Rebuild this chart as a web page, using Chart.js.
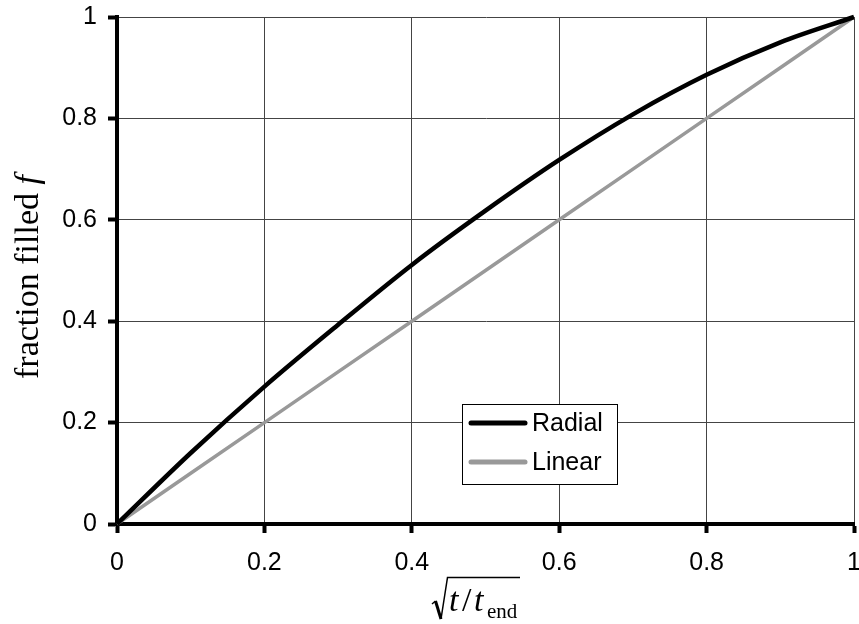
<!DOCTYPE html>
<html><head><meta charset="utf-8">
<script src="https://cdn.jsdelivr.net/npm/chart.js@4/dist/chart.umd.min.js"></script>
<style>html,body{margin:0;padding:0;background:#fff}#wrap{width:859px;height:624px;position:relative}</style>
</head><body><div id="wrap"><canvas id="c" width="859" height="624"></canvas></div>
<script>
// Data
const sValues   = [0, 0.1, 0.2, 0.3, 0.4, 0.5, 0.6, 0.7, 0.8, 0.9, 1.0];
const radialF   = [0, 0.140, 0.271, 0.393, 0.511, 0.618, 0.718, 0.808, 0.886, 0.950, 1.0];
const linearF   = [0, 0.1, 0.2, 0.3, 0.4, 0.5, 0.6, 0.7, 0.8, 0.9, 1.0];
const seriesNames = ["Radial", "Linear"];
const xTickVals = [0, 0.2, 0.4, 0.6, 0.8, 1];
const xTickLabels = ["0", "0.2", "0.4", "0.6", "0.8", "1"];
const yTickVals = [0, 0.2, 0.4, 0.6, 0.8, 1];
const yTickLabels = ["0", "0.2", "0.4", "0.6", "0.8", "1"];
const yTitleNormal = "fraction filled ";
const yTitleItalic = "f";

const pts = (ys) => sValues.map((x, i) => ({x: x, y: ys[i]}));

const SANS = "'Liberation Sans', Arial, sans-serif";
const SERIF = "'Liberation Serif', 'Times New Roman', serif";

const extras = {
  id: 'extras',
  afterDraw(chart) {
    const ctx = chart.ctx;
    ctx.save();
    // Y title (rotated, with italic f)
    ctx.translate(38, 277);
    ctx.rotate(-Math.PI / 2);
    ctx.fillStyle = '#000';
    ctx.textBaseline = 'alphabetic';
    ctx.textAlign = 'left';
    ctx.font = "34px " + SERIF;
    const w1 = ctx.measureText(yTitleNormal).width;
    ctx.font = "italic 34px " + SERIF;
    const w2 = ctx.measureText(yTitleItalic).width;
    const start = -(w1 + w2) / 2;
    ctx.font = "34px " + SERIF;
    ctx.fillText(yTitleNormal, start, 0);
    ctx.font = "italic 34px " + SERIF;
    ctx.fillText(yTitleItalic, start + w1, 0);
    ctx.restore();

    // X title: sqrt(t / t_end)
    ctx.save();
    ctx.strokeStyle = '#000';
    ctx.lineJoin = 'miter';
    ctx.lineWidth = 1.5;
    ctx.beginPath();
    ctx.moveTo(432, 604);
    ctx.lineTo(435.5, 601);
    ctx.stroke();
    ctx.lineWidth = 3;
    ctx.beginPath();
    ctx.moveTo(435.5, 601);
    ctx.lineTo(441, 619);
    ctx.stroke();
    ctx.lineWidth = 1.5;
    ctx.beginPath();
    ctx.moveTo(441, 619);
    ctx.lineTo(447.5, 577.5);
    ctx.lineTo(520, 577.5);
    ctx.stroke();
    ctx.fillStyle = '#000';
    ctx.textBaseline = 'alphabetic';
    ctx.textAlign = 'left';
    ctx.font = "italic 34px " + SERIF;
    ctx.fillText("t", 449, 611);
    ctx.font = "34px " + SERIF;
    ctx.fillText("/", 462, 611);
    ctx.font = "italic 34px " + SERIF;
    ctx.fillText("t", 474, 611);
    ctx.font = "21px " + SERIF;
    ctx.fillText("end", 487, 618);
    ctx.restore();

    // Legend
    ctx.save();
    const bx = 462.5, by = 404.5, bw = 155, bh = 80;
    ctx.fillStyle = '#fff';
    ctx.fillRect(bx, by, bw, bh);
    ctx.strokeStyle = '#000';
    ctx.lineWidth = 1;
    ctx.strokeRect(bx, by, bw, bh);
    const rows = [423, 462];
    chart.data.datasets.forEach((ds, i) => {
      ctx.strokeStyle = ds.borderColor;
      ctx.lineWidth = 5;
      ctx.lineCap = 'round';
      ctx.beginPath();
      ctx.moveTo(471, rows[i]);
      ctx.lineTo(525, rows[i]);
      ctx.stroke();
      ctx.fillStyle = '#000';
      ctx.font = "25px " + SANS;
      ctx.textBaseline = 'middle';
      ctx.textAlign = 'left';
      ctx.fillText(ds.label, 532, rows[i] + 1);
    });
    ctx.restore();
  }
};

new Chart(document.getElementById('c'), {
  type: 'scatter',
  data: {
    datasets: [
      { label: seriesNames[0], data: pts(radialF), showLine: true, borderColor: '#000000',
        borderWidth: 4.5, pointRadius: 0, cubicInterpolationMode: 'monotone', clip: false },
      { label: seriesNames[1], data: pts(linearF), showLine: true, borderColor: '#999999',
        borderWidth: 3.5, pointRadius: 0, tension: 0, clip: false }
    ]
  },
  options: {
    responsive: false,
    animation: false,
    devicePixelRatio: 1,
    layout: { padding: { top: 17, right: 5, left: 0, bottom: 0 } },
    plugins: { legend: { display: false }, tooltip: { enabled: false } },
    scales: {
      x: {
        type: 'linear', min: 0, max: 1,
        afterFit: (s) => { s.height = 100; s.paddingLeft = 0; s.paddingRight = 0; },
        afterBuildTicks: (s) => { s.ticks = xTickVals.map(v => ({value: v})); },
        ticks: { callback: (v, i) => xTickLabels[i], color: '#000', padding: 15,
                 font: { family: SANS, size: 25 }, maxRotation: 0, autoSkip: false },
        grid: { color: '#444', lineWidth: 1, tickColor: '#000', tickWidth: 4, tickLength: 9 },
        border: { color: '#000', width: 4 }
      },
      y: {
        type: 'linear', min: 0, max: 1,
        afterFit: (s) => { s.width = 117; s.paddingTop = 0; s.paddingBottom = 0; },
        afterBuildTicks: (s) => { s.ticks = yTickVals.map(v => ({value: v})); },
        ticks: { callback: (v, i) => yTickLabels[i], color: '#000', padding: 11,
                 font: { family: SANS, size: 25 }, autoSkip: false },
        grid: { color: '#444', lineWidth: 1, tickColor: '#000', tickWidth: 4, tickLength: 9 },
        border: { color: '#000', width: 4 }
      }
    }
  },
  plugins: [extras]
});
</script>
</body></html>
